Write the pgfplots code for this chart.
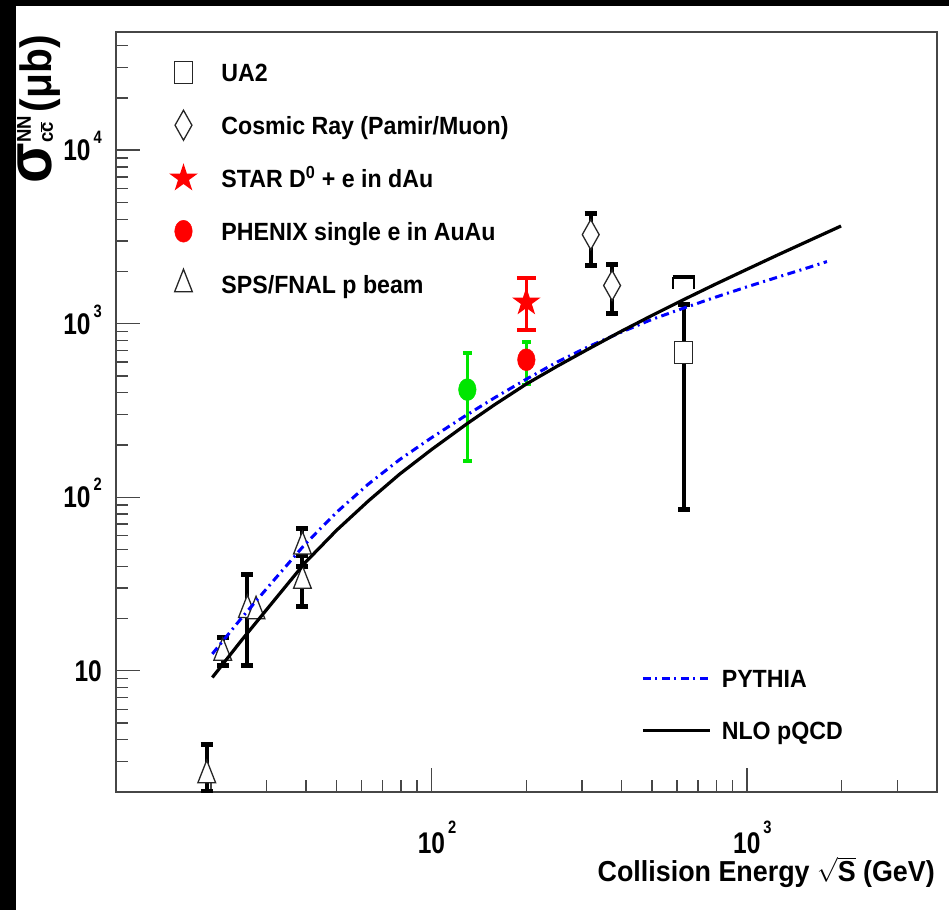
\documentclass[border=0pt]{standalone}
\usepackage{pgfplots}
\pgfplotsset{compat=1.18}
\usepackage{fontspec}
\setmainfont{Liberation Sans}[FakeStretch=0.93]
\newfontfamily\tickfont{Liberation Sans}[FakeStretch=0.82]
\usetikzlibrary{plotmarks}

\definecolor{ggreen}{RGB}{0,230,0}
\definecolor{fgray}{RGB}{70,70,70}

\pgfdeclareplotmark{fstar}{%
  \pgfpathmoveto{\pgfpointpolar{90}{\pgfplotmarksize}}%
  \pgfpathlineto{\pgfpointpolar{126}{0.382\pgfplotmarksize}}%
  \pgfpathlineto{\pgfpointpolar{162}{\pgfplotmarksize}}%
  \pgfpathlineto{\pgfpointpolar{198}{0.382\pgfplotmarksize}}%
  \pgfpathlineto{\pgfpointpolar{234}{\pgfplotmarksize}}%
  \pgfpathlineto{\pgfpointpolar{270}{0.382\pgfplotmarksize}}%
  \pgfpathlineto{\pgfpointpolar{306}{\pgfplotmarksize}}%
  \pgfpathlineto{\pgfpointpolar{342}{0.382\pgfplotmarksize}}%
  \pgfpathlineto{\pgfpointpolar{18}{\pgfplotmarksize}}%
  \pgfpathlineto{\pgfpointpolar{54}{0.382\pgfplotmarksize}}%
  \pgfpathclose\pgfusepathqfill}

\pgfdeclareplotmark{ubracket}{%
  \pgfsetlinewidth{4bp}%
  \pgfpathmoveto{\pgfpoint{-11bp}{0bp}}\pgfpathlineto{\pgfpoint{11bp}{0bp}}\pgfusepathqstroke
  \pgfsetlinewidth{1.5bp}%
  \pgfpathmoveto{\pgfpoint{-10.3bp}{0bp}}\pgfpathlineto{\pgfpoint{-10.3bp}{-12bp}}%
  \pgfpathmoveto{\pgfpoint{10.3bp}{0bp}}\pgfpathlineto{\pgfpoint{10.3bp}{-12bp}}%
  \pgfusepathqstroke}

\pgfplotsset{
  legmark/.style={legend image code/.code={%
      \draw[##1] plot coordinates {(14bp,9bp)};
      \path[draw=none, fill=none] (0bp,-8bp) rectangle (52bp,27bp);}},
  blackbars/.style={forget plot, draw=none, mark=none,
      error bars/.cd, y dir=both, y explicit,
      error bar style={draw=black, line width=4bp},
      error mark options={rotate=90, draw=black, line width=5bp, mark size=6bp}},
}

\newcommand{\sx}[1]{10\rlap{\hspace{3bp}\raisebox{20bp}{\fontsize{18}{18}\selectfont #1}}}
\newcommand{\sy}[1]{10\hspace{3bp}\raisebox{17bp}{\fontsize{18}{18}\selectfont #1}}

\begin{document}
\begin{tikzpicture}
\fill[white] (-116bp,-118bp) rectangle (833bp,792bp);
\fill[black] (-116bp,-118bp) rectangle (-100bp,792bp);
\fill[black] (-116bp,786bp) rectangle (833bp,792bp);

\begin{axis}[
  at={(0,0)}, anchor=south west, scale only axis,
  width=820.7bp, height=760bp,
  xmode=log, ymode=log,
  xmin=10, xmax=4000, ymin=2, ymax=4.8e4,
  axis line style={draw=fgray, line width=1.6bp},
  every tick/.style={draw=fgray, line width=1.4bp},
  major tick length=24bp, minor tick length=12bp,
  xtick pos=bottom, ytick pos=left,
  tick align=inside,
  xtick={100,1000}, xticklabels={{\sx{2}},{\sx{3}}},
  minor xtick={20,30,40,50,60,70,80,90,200,300,400,500,600,700,800,900,2000,3000},
  ytick={10,100,1000,10000}, yticklabels={10,{\sy{2}},{\sy{3}},{\sy{4}}},
  minor ytick={3,4,5,6,7,8,9,20,30,40,50,60,70,80,90,200,300,400,500,600,700,800,900,2000,3000,4000,5000,6000,7000,8000,9000,20000,30000,40000},
  ticklabel style={font=\tickfont\bfseries\fontsize{30}{30}\selectfont, inner sep=0pt},
  xticklabel style={anchor=base, yshift=-61bp},
  yticklabel style={anchor=base east, xshift=-14bp, yshift=-10.5bp},
  legend style={at={(rel axis cs:0.0646,0.971)}, anchor=north west,
     draw=none, fill=none, inner sep=0pt, row sep=18bp, column sep=0pt,
     cells={anchor=base west},
     font=\bfseries\fontsize{25}{25}\selectfont,
     nodes={inner sep=0pt, text height=19bp, text depth=6bp}},
]
% error bars first
\addplot[blackbars] coordinates {
 (630,683) += (0,604) -= (0,598)
 (320,3260) += (0,1040) -= (0,1090)
 (374,1660) += (0,530) -= (0,510)
 (19.4,2.5) += (0,1.24) -= (0,0.5)
 (21.8,12.7) += (0,2.8) -= (0,2.0)
 (26.1,22.4) += (0,13.3) -= (0,11.7)
 (39,52) += (0,14) -= (0,12)
 (39,33) += (0,13) -= (0,9.5)
};
\addplot[forget plot, draw=none, mark=none,
  error bars/.cd, y dir=both, y explicit,
  error bar style={draw=red, line width=2.5bp},
  error mark options={rotate=90, draw=red, line width=4bp, mark size=9.5bp}]
  coordinates {(200,1330) += (0,510) -= (0,410)};
\addplot[forget plot, draw=none, mark=none,
  error bars/.cd, y dir=both, y explicit,
  error bar style={draw=ggreen, line width=2.5bp},
  error mark options={rotate=90, draw=ggreen, line width=3.5bp, mark size=4.5bp}]
  coordinates {(200,620) += (0,165) -= (0,175) (130,417) += (0,261) -= (0,255)};
\addplot[forget plot, only marks, mark=ubracket, mark options={draw=black}]
  coordinates {(630,1860)};

% markers
\addplot[only marks, mark=square*, mark size=11bp,
  mark options={xscale=0.8, fill=white, draw=black!85, line width=1.3bp}, legmark]
  coordinates {(630,683)};
\addlegendentry{UA2}
\addplot[only marks, mark=diamond*, mark size=15bp,
  mark options={xscale=0.75, fill=white, draw=black!85, line width=1.3bp}, legmark]
  coordinates {(320,3260) (374,1660)};
\addlegendentry{Cosmic Ray (Pamir/Muon)}
\addplot[only marks, mark=fstar, mark size=15bp,
  mark options={fill=red, draw=red}, legmark]
  coordinates {(200,1330)};
\addlegendentry{STAR D\textsuperscript{0} + e in dAu}
\addplot[only marks, mark=*, mark size=11bp,
  mark options={xscale=0.8, fill=red, draw=red}, legmark]
  coordinates {(200,620)};
\addlegendentry{PHENIX single e in AuAu}
\addplot[only marks, mark=triangle*, mark size=15bp,
  mark options={xscale=0.68, fill=white, draw=black!85, line width=1.3bp}, legmark]
  coordinates {(19.4,2.5) (21.8,12.7) (26.1,22.4) (27.8,22.0) (39,52) (39,33)};
\addlegendentry{SPS/FNAL p beam}
\addplot[forget plot, only marks, mark=*, mark size=11bp,
  mark options={xscale=0.8, fill=ggreen, draw=ggreen}]
  coordinates {(130,417)};
\end{axis}

\begin{axis}[
  at={(0,0)}, anchor=south west, scale only axis,
  width=820.7bp, height=760bp,
  xmode=log, ymode=log,
  xmin=10, xmax=4000, ymin=2, ymax=4.8e4,
  hide axis,
  legend style={at={(rel axis cs:0.6397,0.173)}, anchor=north west,
     draw=none, fill=none, inner sep=0pt, row sep=17bp, column sep=0pt,
     cells={anchor=base west},
     font=\bfseries\fontsize{25}{25}\selectfont,
     nodes={inner sep=0pt, text height=19bp, text depth=6bp}},
  legend image code/.code={\draw[#1] (0bp,9bp) -- (67bp,9bp);
     \path[draw=none, fill=none] (0bp,-8bp) rectangle (79bp,27bp);},
]
\addplot[blue, line width=3bp, dash pattern=on 8bp off 4.5bp on 2bp off 4.5bp] coordinates {
 (20.2,12.5) (25.1,20.3) (31.6,33.1) (39.8,53.7) (50.1,82) (63.1,119) (79.4,165)
 (100,220) (126,289) (158.5,374) (200,479) (251,603) (316,740) (398,890)
 (501,1060) (631,1230) (794,1420) (1000,1630) (1259,1860) (1585,2120) (1795,2280)};
\addlegendentry{PYTHIA}
\addplot[black, line width=3.2bp] coordinates {
 (20.2,9.14) (25.1,15.1) (31.6,25.2) (39.8,42.0) (50.1,64.6) (63.1,95.1) (79.4,136)
 (100,188) (130,266) (158.5,341) (200,449) (251,570) (316,718) (398,900)
 (501,1117) (631,1377) (794,1687) (1000,2056) (1259,2500) (1585,3027) (1990,3656)};
\addlegendentry{NLO pQCD}
\end{axis}

\node[rotate=90, anchor=base east, inner sep=0pt, font=\bfseries\fontsize{44}{44}\selectfont]
  at (-64bp,757bp)
  {{\fontsize{64}{64}\selectfont σ}\raisebox{21bp}{\rlap{\fontsize{20}{20}\selectfont NN}}\raisebox{-1bp}{\fontsize{20}{20}\selectfont c$\overline{\mbox{c}}$}\hspace{10bp}(μb)};
\node[anchor=base east, inner sep=0pt, font=\bfseries\fontsize{29}{29}\selectfont]
  at (819bp,-89bp) {Collision Energy $\sqrt{\mbox{S}}$ (GeV)};

\pgfresetboundingbox
\path[use as bounding box] (-116bp,-118bp) rectangle (833bp,792bp);
\end{tikzpicture}
\end{document}
